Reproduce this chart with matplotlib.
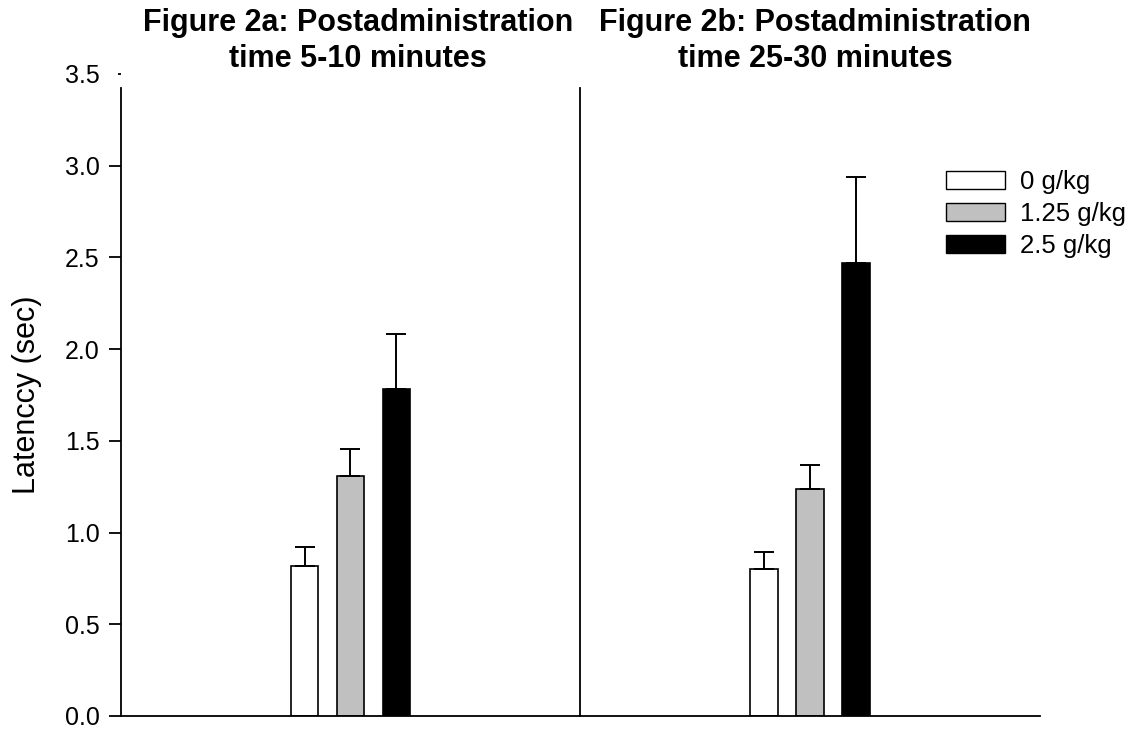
import matplotlib
matplotlib.use("Agg")
import matplotlib.pyplot as plt
from matplotlib.patches import Patch
import numpy as np

plt.rcParams['font.family'] = ['Liberation Sans', 'DejaVu Sans']

doses = ["0 g/kg", "1.25 g/kg", "2.5 g/kg"]
colors = ["white", "#c0c0c0", "black"]
titles = ["Figure 2a: Postadministration\ntime 5-10 minutes",
          "Figure 2b: Postadministration\ntime 25-30 minutes"]
# mean latency and upper SEM, per panel
latency_a = [0.82, 1.31, 1.78]
err_a = [0.10, 0.145, 0.30]
latency_b = [0.80, 1.24, 2.47]
err_b = [0.095, 0.13, 0.47]

fig = plt.figure(figsize=(11.36, 7.30), dpi=100)
ax1 = fig.add_axes([0.1065, 0.0192, 0.4040, 0.8795])
ax2 = fig.add_axes([0.5106, 0.0192, 0.4049, 0.8795], sharey=ax1)

x = np.arange(3)
for ax, vals, errs, title, tx in [(ax1, latency_a, err_a, titles[0], 0.516),
                                  (ax2, latency_b, err_b, titles[1], 0.511)]:
    ax.bar(x, vals, width=0.6, color=colors, edgecolor="black", linewidth=1.2,
           yerr=[np.zeros(3), errs], capsize=7,
           error_kw=dict(elinewidth=1.4, capthick=1.4, ecolor="black"))
    ax.set_xlim(-4, 6)
    ax.set_ylim(0, 3.5)
    ax.set_xticks([])
    ax.spines['top'].set_visible(False)
    ax.spines['right'].set_visible(False)
    ax.spines['left'].set_bounds(0, 3.424)
    ax.spines['left'].set_linewidth(1.3)
    ax.spines['bottom'].set_linewidth(1.3)
    ax.set_title(title, fontsize=22, fontweight="bold", pad=3,
                 linespacing=1.28, x=tx)

ax1.set_yticks(np.arange(0, 3.51, 0.5))
ax1.set_yticklabels([f"{v:.1f}" for v in np.arange(0, 3.51, 0.5)])
ax1.tick_params(axis='y', labelsize=18, length=9, width=1.3, pad=6.5)
ax1.yaxis.get_major_ticks()[-1].tick1line.set_markersize(2)
ax1.set_ylabel("Latenccy (sec)", fontsize=22, labelpad=16)
ax2.tick_params(axis='y', left=False, labelleft=False)

handles = [Patch(facecolor=c, edgecolor="black", linewidth=1.0) for c in colors]
fig.legend(handles, doses, loc="upper left", bbox_to_anchor=(0.824, 0.781),
           frameon=False, fontsize=18.5, handlelength=2.28, handleheight=0.72,
           labelspacing=0.31, handletextpad=0.6, borderaxespad=0)

fig.savefig("out.png", dpi=100)
